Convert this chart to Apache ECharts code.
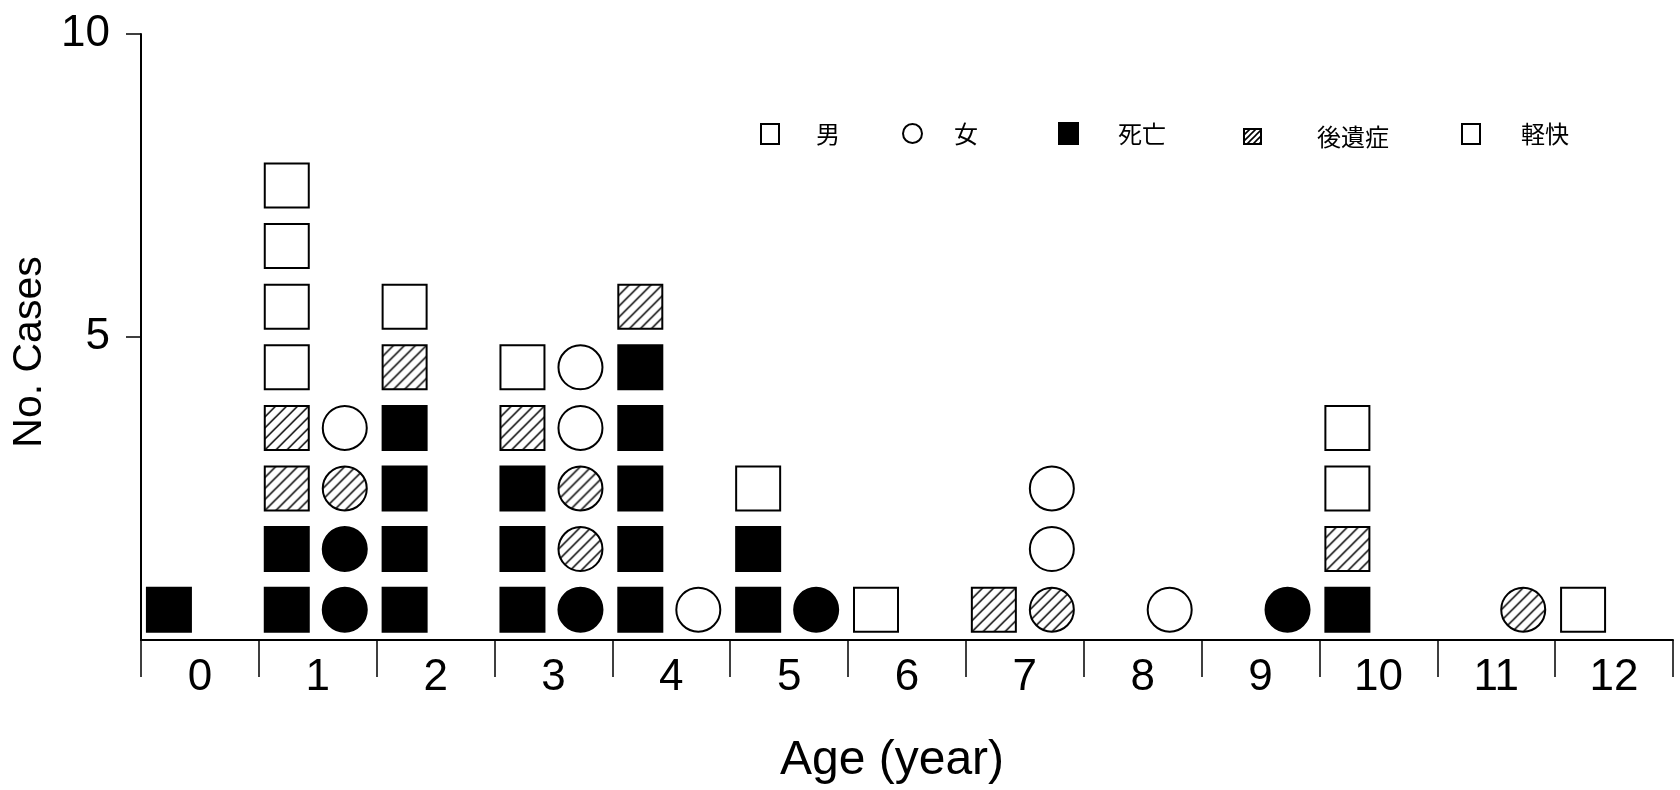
<!DOCTYPE html>
<html>
<head>
<meta charset="utf-8">
<script src="https://cdn.jsdelivr.net/npm/echarts@6/dist/echarts.min.js"></script>
<style>
  html, body { margin: 0; padding: 0; background: #fff; }
  #chart { width: 1680px; height: 790px; }
</style>
</head>
<body>
<div id="chart"></div>
<script>
// ---- data ----
const ages = ['0','1','2','3','4','5','6','7','8','9','10','11','12'];
// male (squares), counts per age, stacked bottom-up: death, sequelae, recovered
const maleDeath      = [1,2,4,3,5,2,0,0,0,0,1,0,0];
const maleSequelae   = [0,2,1,1,1,0,0,1,0,0,1,0,0];
const maleRecovered  = [0,4,1,1,0,1,1,0,0,0,2,0,1];
// female (circles)
const femaleDeath     = [0,2,0,1,0,1,0,0,0,1,0,0,0];
const femaleSequelae  = [0,1,0,2,0,0,0,1,0,0,0,1,0];
const femaleRecovered = [0,1,0,2,1,0,0,2,1,0,0,0,0];
const yTicks = [0, 5, 10];
const legendNames = ['男', '女', '死亡', '後遺症', '軽快'];

const SYM = 44;

// ---- hatch pattern ----
function makeHatch(step, lw, scale) {
  const c = document.createElement('canvas');
  c.width = step; c.height = step;
  const g = c.getContext('2d');
  g.fillStyle = '#fff';
  g.fillRect(0, 0, step, step);
  g.strokeStyle = '#000';
  g.lineWidth = lw;
  g.beginPath();
  g.moveTo(-1, step + 1); g.lineTo(step + 1, -1);
  g.moveTo(-step / 2 - 1, step / 2 + 1); g.lineTo(step / 2 + 1, -step / 2 - 1);
  g.moveTo(step / 2 - 1, step * 1.5 + 1); g.lineTo(step * 1.5 + 1, step / 2 - 1);
  g.stroke();
  return { image: c, repeat: 'repeat', scaleX: scale, scaleY: scale };
}
// symbols are drawn as a unit path scaled by size/2, so counter-scale the pattern
const hatchSymbol = makeHatch(11, 1.5, 2 / SYM);
const hatchLegend = makeHatch(6, 1.6, 1);

// build unit points (one mark per case) stacked from the counts
function stackPoints(groups) {
  const out = groups.map(() => []);
  for (let i = 0; i < ages.length; i++) {
    let row = 0;
    groups.forEach((arr, gi) => {
      for (let k = 0; k < arr[i]; k++) {
        out[gi].push([ages[i], row + 0.5]);
        row++;
      }
    });
  }
  return out;
}
const [mD, mS, mR] = stackPoints([maleDeath, maleSequelae, maleRecovered]);
const [fD, fS, fR] = stackPoints([femaleDeath, femaleSequelae, femaleRecovered]);

const fills = { death: '#000', seq: hatchSymbol, rec: '#fff' };

function unitSeries(name, data, symbol, fill, offset) {
  return {
    name, type: 'scatter', data, symbol, symbolSize: SYM,
    symbolOffset: [offset, 0],
    itemStyle: { color: fill, opacity: 1, borderColor: '#000', borderWidth: 2 },
    emphasis: { disabled: true },
    silent: true, z: 3
  };
}
function legendSeries(name, symbol, fill) {
  return {
    name, type: 'scatter', data: [], symbol,
    itemStyle: { color: fill, opacity: 1, borderColor: '#000', borderWidth: 1.5 }
  };
}

const cjk = '"Noto Sans CJK JP", sans-serif';
const latin = '"Liberation Sans", Arial, sans-serif';

// legend components, one per item so spacing matches
const legendLayout = [
  { name: '男',     icon: 'rect',   left: 755,  w: 18, h: 20, pad: 32 },
  { name: '女',     icon: 'circle', left: 897,  w: 19, h: 21, pad: 27 },
  { name: '死亡',   icon: 'rect',   left: 1053, w: 19, h: 21, pad: 35 },
  { name: '後遺症', icon: 'rect',   left: 1238, w: 17, h: 15, pad: 51 },
  { name: '軽快',   icon: 'rect',   left: 1456, w: 18, h: 20, pad: 36 }
];

const option = {
  animation: false,
  backgroundColor: '#fff',
  grid: { left: 141, right: 7, top: 34, bottom: 144, containLabel: false },
  legend: legendLayout.map(l => ({
    data: [{ name: l.name, icon: l.icon }],
    left: l.left, top: 127 - l.h / 2,
    itemWidth: l.w, itemHeight: l.h,
    selectedMode: false,
    textStyle: { fontFamily: cjk, fontSize: 24, color: '#000', padding: [0, 0, 0, l.pad] }
  })),
  xAxis: {
    type: 'category',
    data: ages,
    boundaryGap: true,
    name: 'Age (year)',
    nameLocation: 'middle',
    nameGap: 97,
    nameTextStyle: { fontFamily: latin, fontSize: 48, color: '#000', padding: [0, 30, 0, 0] },
    axisLine: { show: true, lineStyle: { color: '#000', width: 2 } },
    axisTick: { show: true, inside: false, length: 37, alignWithLabel: false, interval: 0, lineStyle: { color: '#000', width: 1.5 } },
    axisLabel: { interval: 0, margin: 16, fontFamily: latin, fontSize: 44, color: '#000' },
    splitLine: { show: false }
  },
  yAxis: {
    type: 'value',
    min: yTicks[0], max: yTicks[yTicks.length - 1], interval: yTicks[1] - yTicks[0],
    name: 'No. Cases',
    nameLocation: 'middle',
    nameGap: 79,
    nameTextStyle: { fontFamily: latin, fontSize: 41, color: '#000', padding: [0, 30, 0, 0] },
    axisLine: { show: true, onZero: false, lineStyle: { color: '#000', width: 2 } },
    axisTick: { show: true, inside: false, length: 15, lineStyle: { color: '#000', width: 1.5 } },
    axisLabel: { showMinLabel: false, margin: 31, fontFamily: latin, fontSize: 44, color: '#000' },
    splitLine: { show: false }
  },
  series: [
    unitSeries('男死亡', mD, 'rect', fills.death, -31),
    unitSeries('男後遺症', mS, 'rect', fills.seq, -31),
    unitSeries('男軽快', mR, 'rect', fills.rec, -31),
    unitSeries('女死亡', fD, 'circle', fills.death, 27),
    unitSeries('女後遺症', fS, 'circle', fills.seq, 27),
    unitSeries('女軽快', fR, 'circle', fills.rec, 27),
    legendSeries('男', 'rect', '#fff'),
    legendSeries('女', 'circle', '#fff'),
    legendSeries('死亡', 'rect', '#000'),
    legendSeries('後遺症', 'rect', hatchLegend),
    legendSeries('軽快', 'rect', '#fff')
  ]
};

const chart = echarts.init(document.getElementById('chart'), null, { renderer: 'canvas' });
chart.setOption(option);
</script>
</body>
</html>
